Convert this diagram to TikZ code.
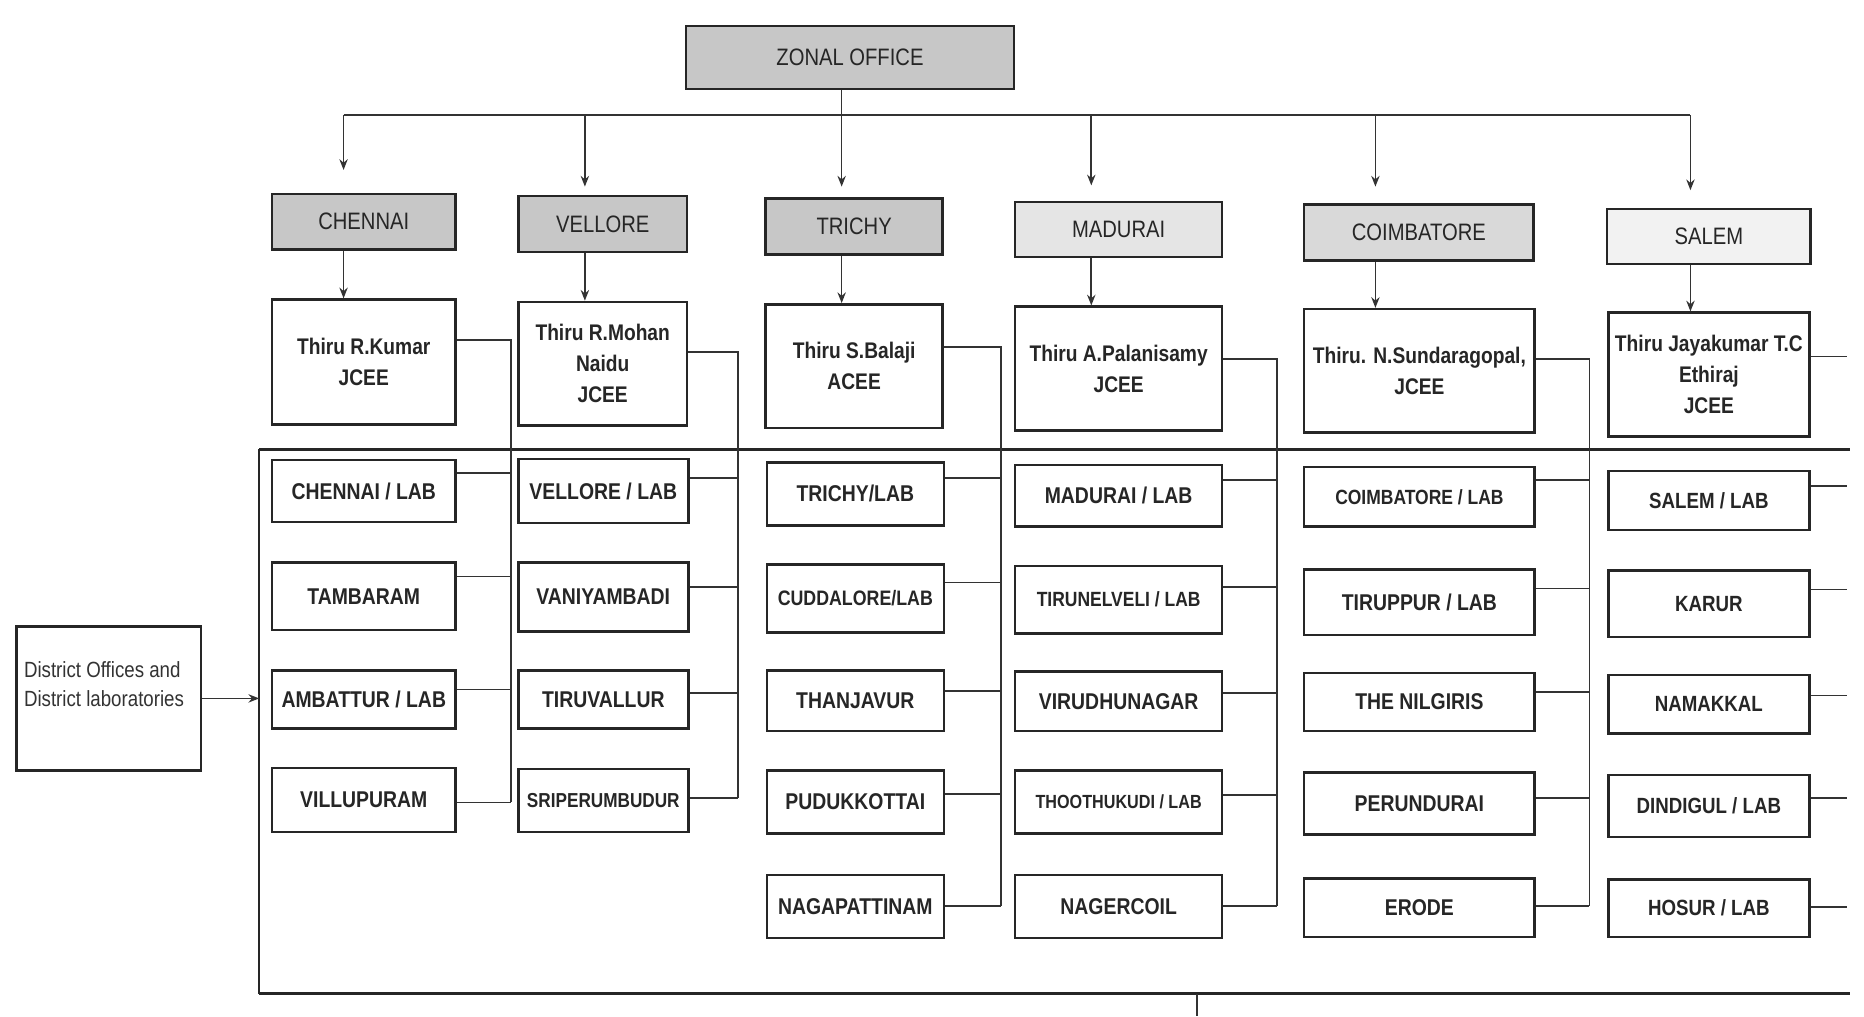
\documentclass[tikz,border=0pt]{standalone}
\usepackage{fontspec}
\setmainfont{Liberation Sans}
\newfontfamily\condfont[FakeStretch=0.85]{Liberation Sans}
\usetikzlibrary{arrows.meta}
\newcommand\bx[7]{\node[#1, minimum width={#5-#3}, minimum height={#6-#4}] (#2) at ({(#3+#5)/2},{(#4+#6)/2}) {#7};}
\newcommand\lk[3]{\draw[ln] (#1.east |- 0,#3) -- (#2 |- 0,#3);}
\tikzset{
  box/.style={draw=black!85, line width=2.1pt, fill=white, inner sep=0pt, align=center, text=black!85},
  shaded/.style={box, fill=black!#1, font={\condfont\fontsize{20}{24}\selectfont}},
  pers/.style={box, font={\condfont\bfseries\fontsize{19}{26}\selectfont}},
  lab/.style={box, font={\condfont\bfseries\fontsize{19.2}{24}\selectfont}},
  fsz/.style={font={\condfont\bfseries\fontsize{#1}{24}\selectfont}},
  ln/.style={draw=black!80, line width=1.4pt},
  arr/.style={ln, -{Stealth[length=9pt,width=7pt]}},
  frame/.style={draw=black!85, line width=2.8pt},
}
\begin{document}
\begin{tikzpicture}[x=1pt,y=-1pt]
\useasboundingbox[fill=white] (0,0) rectangle (1568,855);

% top level
\bx{shaded=22}{zo}{577}{22}{853}{75}{ZONAL OFFICE}
\bx{shaded=22}{c1}{229}{163}{383}{210}{CHENNAI}
\bx{shaded=22}{c2}{436}{165}{578}{212}{VELLORE}
\bx{shaded=22}{c3}{644}{167}{793}{214}{TRICHY}
\bx{shaded=10}{c4}{854}{170}{1028}{216}{MADURAI}
\bx{shaded=15}{c5}{1097}{172}{1290}{219}{COIMBATORE}
\bx{shaded=5}{c6}{1352}{176}{1523}{222}{SALEM}

% officers
\bx{pers}{p1}{229}{252}{383}{357}{Thiru R.Kumar\\JCEE}
\bx{pers}{p2}{436}{254}{578}{358}{Thiru R.Mohan\\Naidu\\JCEE}
\bx{pers}{p3}{644}{256}{793}{360}{Thiru S.Balaji\\ACEE}
\bx{pers}{p4}{854}{258}{1028}{362}{Thiru A.Palanisamy\\JCEE}
\bx{pers}{p5}{1097}{260}{1291}{364}{Thiru. N.Sundaragopal,\\JCEE}
\bx{pers}{p6}{1353}{263}{1522}{367}{Thiru Jayakumar T.C\\Ethiraj\\JCEE}

% arrows from zonal office
\coordinate (a1) at (289,97);
\coordinate (a2) at (492,97);
\coordinate (a3) at (708,97);
\coordinate (a4) at (918,97);
\coordinate (a5) at (1157,97);
\coordinate (a6) at (1422,97);
\draw[ln] (a1) -- (a6);
\draw[ln] (a3 |- zo.south) -- (a3);
\draw[arr, shorten >=19pt] (a1) -- (a1 |- c1.north);
\draw[arr, shorten >=7pt] (a2) -- (a2 |- c2.north);
\draw[arr, shorten >=9pt] (a3) -- (a3 |- c3.north);
\draw[arr, shorten >=13pt] (a4) -- (a4 |- c4.north);
\draw[arr, shorten >=14pt] (a5) -- (a5 |- c5.north);
\draw[arr, shorten >=15pt] (a6) -- (a6 |- c6.north);
\foreach \i in {1,...,6}{
  \draw[arr] (a\i |- c\i.south) -- (a\i |- p\i.north);
}

% frame
\coordinate (fl) at (218,378);
\coordinate (fb) at (218,836);
\coordinate (fr) at (1556,378);
\draw[frame] (fl) -- (fr);
\draw[frame] (fb) -- (fb -| fr);
\draw[draw=black!85, line width=1.8pt] (fl) -- (fb);
\coordinate (tk) at (1007,836);
\draw[ln] (tk) -- (1007,855);

% district offices
\bx{box}{dist}{14}{527}{169}{648}{}
\node[anchor=west, align=left, inner sep=0pt, text=black!80,
      font={\condfont\fontsize{18.5}{25}\selectfont}] (dtxt) at (20,575.5)
      {District Offices and\\District laboratories};
\draw[arr] (dist.east) -- (dist.east -| fl);

% column 1
\bx{lab}{l11}{229}{387}{383}{439}{CHENNAI / LAB}
\bx{lab}{l12}{229}{473}{383}{530}{TAMBARAM}
\bx{lab}{l13}{229}{564}{383}{613}{AMBATTUR / LAB}
\bx{lab}{l14}{229}{646}{383}{700}{VILLUPURAM}
% column 2
\bx{lab}{l21}{436}{386}{579}{440}{VELLORE / LAB}
\bx{lab}{l22}{436}{473}{579}{531}{VANIYAMBADI}
\bx{lab}{l23}{436}{564}{579}{613}{TIRUVALLUR}
\bx{lab,fsz=17}{l24}{436}{647}{579}{700}{SRIPERUMBUDUR}
% column 3
\bx{lab}{l31}{645}{389}{794}{442}{TRICHY/LAB}
\bx{lab,fsz=17.6}{l32}{645}{475}{794}{532}{CUDDALORE/LAB}
\bx{lab}{l33}{645}{564}{794}{615}{THANJAVUR}
\bx{lab}{l34}{645}{648}{794}{701}{PUDUKKOTTAI}
\bx{lab}{l35}{645}{736}{794}{789}{NAGAPATTINAM}
% column 4
\bx{lab}{l41}{854}{391}{1028}{443}{MADURAI / LAB}
\bx{lab,fsz=17.3}{l42}{854}{476}{1028}{533}{TIRUNELVELI / LAB}
\bx{lab}{l43}{854}{565}{1028}{615}{VIRUDHUNAGAR}
\bx{lab,fsz=16}{l44}{854}{648}{1028}{701}{THOOTHUKUDI / LAB}
\bx{lab}{l45}{854}{736}{1028}{789}{NAGERCOIL}
% column 5
\bx{lab,fsz=17.3}{l51}{1097}{393}{1291}{443}{COIMBATORE / LAB}
\bx{lab}{l52}{1097}{479}{1291}{534}{TIRUPPUR / LAB}
\bx{lab}{l53}{1097}{566}{1291}{615}{THE NILGIRIS}
\bx{lab}{l54}{1097}{650}{1291}{702}{PERUNDURAI}
\bx{lab}{l55}{1097}{739}{1291}{788}{ERODE}
% column 6
\bx{lab,fsz=18.5}{l61}{1353}{396}{1522}{446}{SALEM / LAB}
\bx{lab,fsz=18.5}{l62}{1353}{480}{1522}{536}{KARUR}
\bx{lab,fsz=18.5}{l63}{1353}{568}{1522}{617}{NAMAKKAL}
\bx{lab,fsz=18.5}{l64}{1353}{652}{1522}{704}{DINDIGUL / LAB}
\bx{lab,fsz=18.5}{l65}{1353}{740}{1522}{788}{HOSUR / LAB}

% buses
\coordinate (b1) at (430,286);
\coordinate (b2) at (621,296);
\coordinate (b3) at (842,292);
\coordinate (b4) at (1074,302);
\coordinate (b5) at (1337,302);
\coordinate (b6) at (1554,300);

\draw[ln] (p1.east |- b1) -- (b1) -- (b1 |- 0,675);
\lk{l11}{b1}{398}\lk{l12}{b1}{485}\lk{l13}{b1}{580}\lk{l14}{b1}{675}

\draw[ln] (p2.east |- b2) -- (b2) -- (b2 |- 0,671);
\lk{l21}{b2}{402}\lk{l22}{b2}{494}\lk{l23}{b2}{583}\lk{l24}{b2}{671}

\draw[ln] (p3.east |- b3) -- (b3) -- (b3 |- 0,762);
\lk{l31}{b3}{402}\lk{l32}{b3}{490}\lk{l33}{b3}{581}\lk{l34}{b3}{668}\lk{l35}{b3}{762}

\draw[ln] (p4.east |- b4) -- (b4) -- (b4 |- 0,762);
\lk{l41}{b4}{404}\lk{l42}{b4}{494}\lk{l43}{b4}{583}\lk{l44}{b4}{669}\lk{l45}{b4}{762}

\draw[ln] (p5.east |- b5) -- (b5) -- (b5 |- 0,762);
\lk{l51}{b5}{404}\lk{l52}{b5}{495}\lk{l53}{b5}{582}\lk{l54}{b5}{671}\lk{l55}{b5}{762}

\draw[ln] (p6.east |- b6) -- (b6);
\lk{l61}{b6}{409}\lk{l62}{b6}{496}\lk{l63}{b6}{585}\lk{l64}{b6}{671}\lk{l65}{b6}{763}
\end{tikzpicture}
\end{document}
